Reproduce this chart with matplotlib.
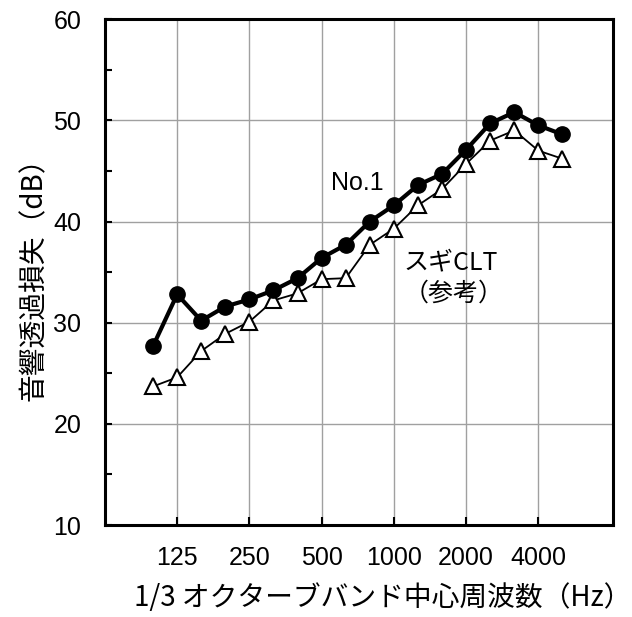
import matplotlib
matplotlib.use("Agg")
import matplotlib.pyplot as plt
from matplotlib.ticker import MultipleLocator

plt.rcParams["font.family"] = ["Liberation Sans", "Noto Sans CJK JP", "DejaVu Sans"]
JP = ["Noto Sans CJK JP", "DejaVu Sans"]

bands = [100, 125, 160, 200, 250, 315, 400, 500, 630, 800,
         1000, 1250, 1600, 2000, 2500, 3150, 4000, 5000]
no1 = [27.7, 32.8, 30.2, 31.6, 32.3, 33.2, 34.4, 36.4, 37.7, 40.0,
       41.6, 43.6, 44.7, 47.1, 49.7, 50.8, 49.5, 48.6]
sugi_clt = [23.7, 24.6, 27.2, 28.9, 30.1, 32.2, 32.9, 34.3, 34.4, 37.7,
            39.3, 41.6, 43.2, 45.7, 48.0, 49.0, 47.0, 46.2]
tick_labels = ["125", "250", "500", "1000", "2000", "4000"]

x = list(range(len(bands)))
tick_pos = [bands.index(int(t)) for t in tick_labels]

fig = plt.figure(figsize=(6.32, 6.17), dpi=100)
ax = fig.add_axes([0.166, 0.149, 0.804, 0.820])

ax.plot(x, sugi_clt, color="black", lw=1.3, marker="^", ms=11.5,
        mfc="white", mec="black", mew=1.5, zorder=3)
ax.plot(x, no1, color="black", lw=3.0, marker="o", ms=11,
        mfc="black", mec="black", zorder=4)

ax.set_xlim(-2, 19.1)
ax.set_ylim(10, 60)
ax.yaxis.set_major_locator(MultipleLocator(10))
ax.yaxis.set_minor_locator(MultipleLocator(5))
ax.set_xticks(tick_pos)
ax.set_xticklabels(tick_labels)
ax.grid(True, which="major", color="#a0a0a0", lw=1.0, zorder=0)

ax.tick_params(axis="y", which="major", direction="in", length=5, width=1.5,
               labelsize=18, pad=17)
ax.tick_params(axis="y", which="minor", direction="in", length=5, width=1.5)
ax.tick_params(axis="x", direction="in", length=6, width=1.5, labelsize=18, pad=15)
for s in ax.spines.values():
    s.set_linewidth(2.2)

ax.set_ylabel("音響透過損失（dB）", fontsize=20, family=JP, labelpad=3)
ax.set_xlabel("1/3 オクターブバンド中心周波数（Hz）", fontsize=20, family=JP, labelpad=2)
ax.xaxis.set_label_coords(0.547, -0.115)

ax.text(8.47, 43.8, "No.1", fontsize=18, ha="center", va="center")
ax.text(10.4, 36.0, "スギCLT", fontsize=18, ha="left", va="center", family=JP)
ax.text(10.4, 32.9, "（参考）", fontsize=18, ha="left", va="center", family=JP)

fig.savefig("out.png", dpi=100)
